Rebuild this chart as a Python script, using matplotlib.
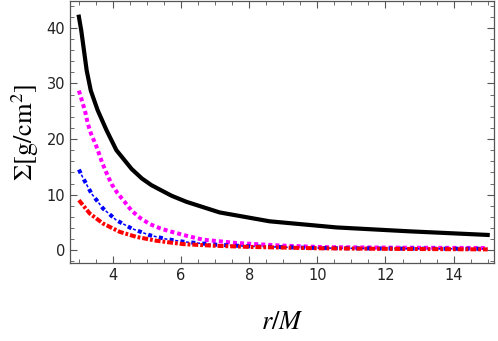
import matplotlib
matplotlib.use("Agg")
import matplotlib.pyplot as plt
from matplotlib.ticker import MultipleLocator

plt.rcParams["mathtext.fontset"] = "stix"
plt.rcParams["lines.scale_dashes"] = False

# radius values (r/M) and surface density curves
r_black = [3.0, 3.07, 3.15, 3.23, 3.35, 3.55, 3.81, 4.1, 4.55, 4.85, 5.13, 5.72,
           6.16, 7.13, 8.6, 10.56, 12.7, 15.0]
s_black = [42.0, 39.5, 35.9, 32.3, 28.7, 25.2, 21.6, 18.0, 14.6, 12.9, 11.7, 9.8,
           8.7, 6.8, 5.2, 4.1, 3.4, 2.75]

r_magenta = [3.0, 3.1, 3.19, 3.26, 3.36, 3.5, 3.59, 3.68, 3.81, 3.96, 4.13, 4.33,
             4.55, 4.8, 5.08, 5.4, 5.67, 6.16, 6.64, 7.62, 8.9, 10.2, 12.5, 15.0]
s_magenta = [28.7, 26.7, 24.8, 22.8, 20.9, 18.9, 17.4, 15.8, 13.9, 11.9, 10.3, 8.8,
             7.1, 5.8, 4.7, 3.9, 3.4, 2.6, 1.9, 1.3, 0.85, 0.55, 0.45, 0.4]

r_blue = [3.0, 3.13, 3.37, 3.71, 4.1, 4.55, 5.08, 5.57, 6.1, 7.0, 8.0, 10.0, 12.0, 15.0]
s_blue = [14.5, 12.9, 10.2, 7.5, 5.4, 3.9, 2.7, 2.0, 1.5, 1.0, 0.7, 0.4, 0.3, 0.25]

r_red = [3.0, 3.32, 3.71, 4.2, 4.69, 5.28, 6.06, 7.0, 8.0, 10.0, 12.0, 15.0]
s_red = [9.0, 6.6, 4.8, 3.3, 2.4, 1.7, 1.1, 0.8, 0.6, 0.35, 0.25, 0.15]

fig = plt.figure(figsize=(4.98, 3.41), dpi=100)
ax = fig.add_axes([0.1406, 0.2287, 0.851, 0.768])

ax.plot(r_black, s_black, color="black", lw=3.0, solid_joinstyle="round")
ax.plot(r_magenta, s_magenta, color="magenta", lw=2.9,
        linestyle=(0, (2.9, 2.2)), dash_capstyle="butt")
# blue: thick squares alternating with thin dashes
ax.plot(r_blue, s_blue, color="blue", lw=2.9,
        linestyle=(0, (2.9, 5.0)), dash_capstyle="butt")
ax.plot(r_blue, s_blue, color="blue", lw=1.1,
        linestyle=(3.8, (2.2, 5.7)), dash_capstyle="butt")
ax.plot(r_red, s_red, color="red", lw=2.9,
        linestyle=(0, (4.3, 1.4, 2.0, 1.4)), dash_capstyle="butt")

ax.set_xlim(2.74, 15.18)
ax.set_ylim(-2.3, 44.8)
ax.xaxis.set_major_locator(MultipleLocator(2))
ax.xaxis.set_minor_locator(MultipleLocator(0.5))
ax.yaxis.set_major_locator(MultipleLocator(10))
ax.yaxis.set_minor_locator(MultipleLocator(2))

frame_color = "#555555"
for sp in ax.spines.values():
    sp.set_color(frame_color)
    sp.set_linewidth(0.9)
ax.tick_params(which="both", direction="in", top=True, right=True,
               colors=frame_color, labelcolor="#222222", labelsize=10.5)
ax.tick_params(which="major", length=5, width=0.8)
ax.tick_params(which="minor", length=2.8, width=0.6)

ax.set_xlabel(r"$r/M$", fontsize=19, labelpad=19)
ax.set_ylabel(r"$\Sigma[\mathrm{g/cm}^2]$", fontsize=19, labelpad=4)

fig.savefig("out.png", dpi=100)
